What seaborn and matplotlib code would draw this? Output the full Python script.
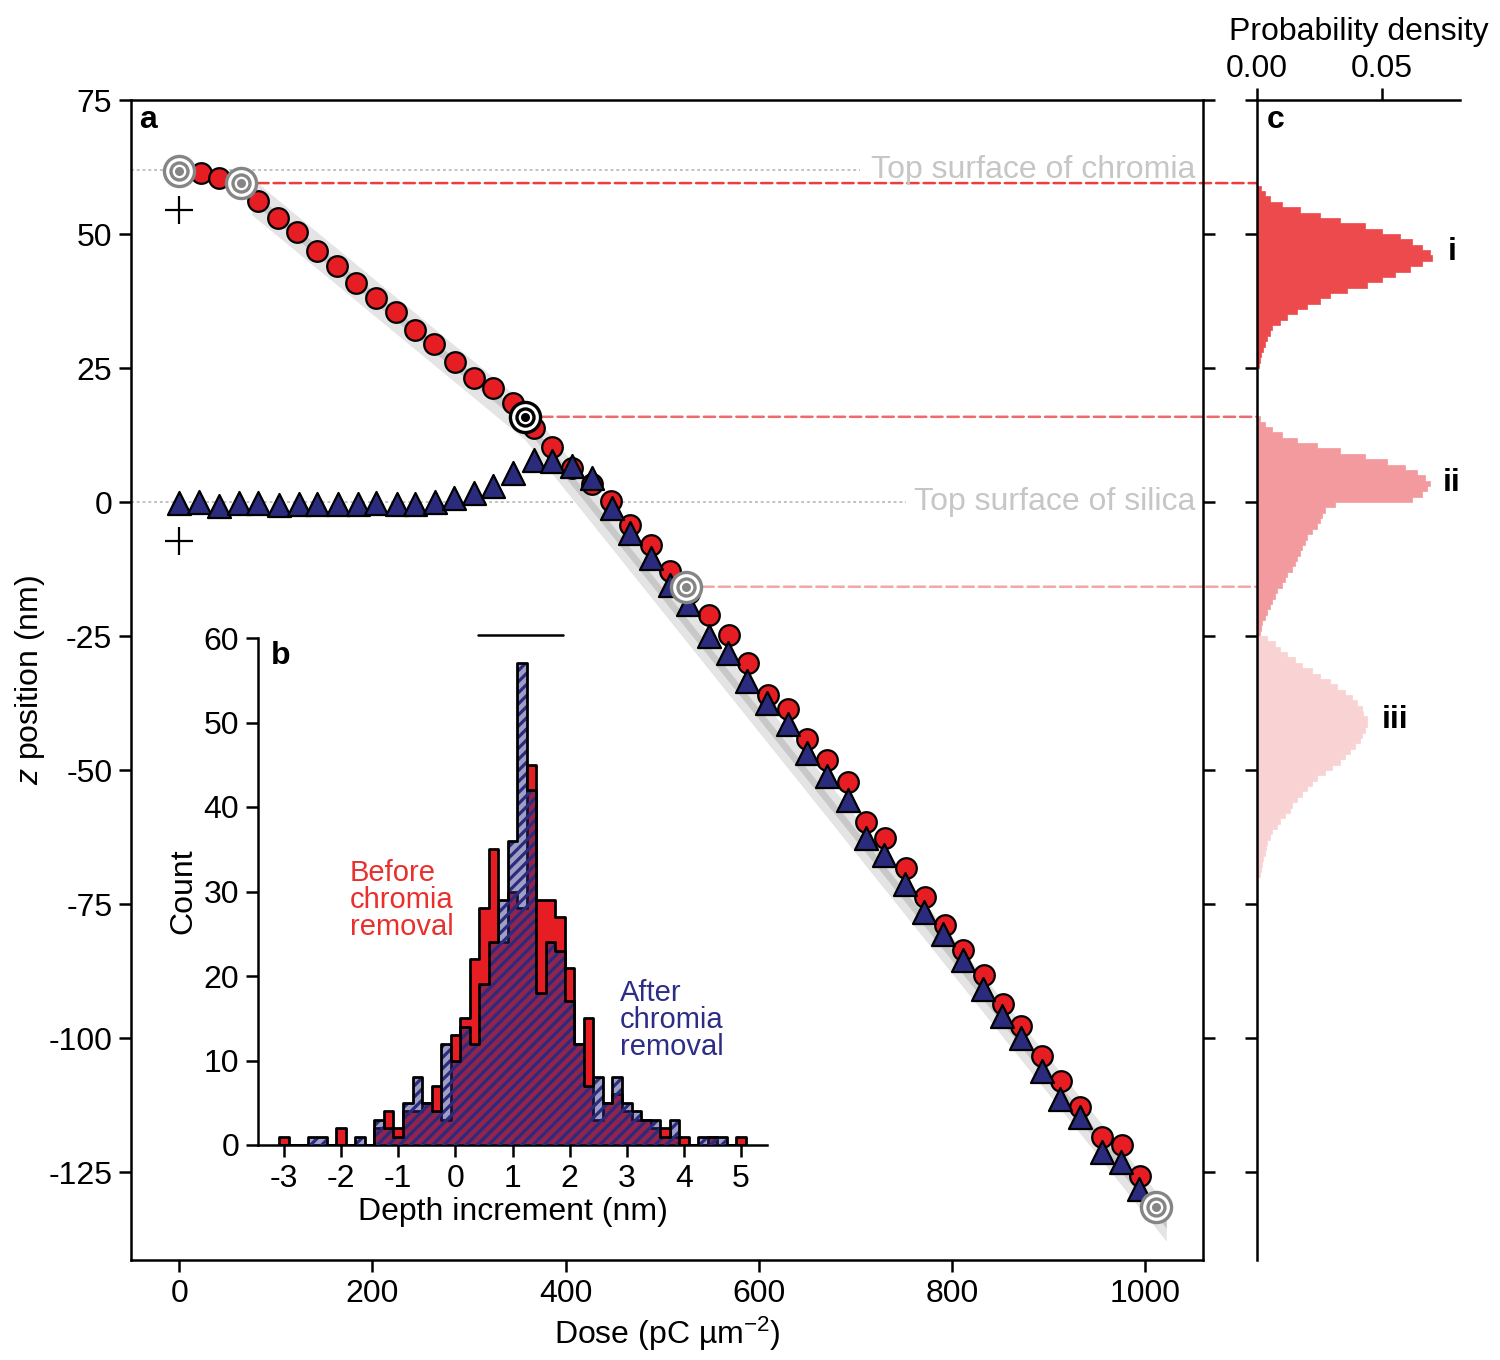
import numpy as np
import pandas as pd
import matplotlib
matplotlib.use("Agg")
import matplotlib.pyplot as plt
import seaborn as sns
from matplotlib.patches import ConnectionPatch

# ---------------- data: panel a ----------------
red_dose = [22, 41, 82, 102, 122, 143, 163, 183, 204, 224, 244, 264, 285, 305, 325, 346,
            367, 386, 407, 427, 447, 467, 488, 508, 528, 549, 569, 589, 610, 630, 650, 671,
            692, 711, 731, 752, 772, 793, 812, 833, 853, 872, 893, 913, 933, 955, 976, 995]
red_z = [61.4, 60.5, 56.2, 53.0, 50.4, 46.8, 44.0, 40.9, 38.0, 35.4, 32.1, 29.5, 26.1, 23.1, 21.3, 18.4,
         13.8, 10.3, 6.3, 3.4, 0.2, -4.3, -8.0, -12.8, -17.0, -21.1, -24.8, -30.1, -36.0, -38.6, -44.2, -48.1,
         -52.2, -59.7, -62.7, -68.3, -73.7, -78.9, -83.6, -88.2, -93.7, -97.8, -103.4, -108.0, -112.9, -118.5, -120.0, -125.7]

blue_dose = [0, 20, 41, 62, 82, 103, 124, 143, 164, 185, 204, 225, 244, 265, 284,
             305, 325, 346, 367, 386, 407, 427, 448, 467,
             488, 508, 527, 548, 568, 588, 609, 630, 650, 671, 692,
             711, 730, 751, 771, 791, 811, 832, 852, 872, 893, 912, 933, 955, 975, 994]
blue_z = [-0.2, 0.0, -0.7, -0.2, -0.2, -0.6, -0.3, -0.3, -0.3, -0.3, -0.2, -0.4, -0.3, 0.0, 0.8,
          1.7, 3.0, 5.4, 7.8, 7.6, 6.8, 4.5, -1.1, -5.8,
          -10.4, -15.5, -19.0, -25.0, -28.2, -33.4, -37.5, -41.5, -46.8, -51.1, -55.6,
          -62.7, -65.9, -71.3, -76.5, -80.6, -85.4, -90.9, -95.9, -100.0, -106.2, -111.4, -114.7, -121.3, -123.1, -128.2]

target_dose = [0, 64, 358, 525, 1011]
target_z = [61.8, 59.5, 15.9, -15.8, -131.5]
target_dark = [False, False, True, False, False]
dashed_targets = [1, 2, 3]          # targets linked to panel c
dashed_colors = ["#e8403f", "#ee6a6c", "#f4a5a7"]

plus_dose = [0, 0]
plus_z = [54.5, -7.3]

band_dose = [75, 358, 1022]
band_mid = [57.0, 15.0, -134.5]
band_half_light = 3.4
band_half_dark = 1.0

chromia_z = 61.9
silica_z = 0.0

# ---------------- data: panel c (probability density, 1 nm bins, listed top -> bottom) ----------------
c_i_top = 59.0
c_i = [0.0015, 0.003, 0.005, 0.010, 0.017, 0.025, 0.033, 0.043, 0.050, 0.057, 0.062, 0.066,
       0.069, 0.070, 0.066, 0.061, 0.055, 0.050, 0.044, 0.036, 0.029, 0.025, 0.020, 0.016,
       0.012, 0.009, 0.006, 0.005, 0.004, 0.003, 0.0022, 0.0016, 0.0011, 0.0006]
c_ii_top = 16.0
c_ii = [0.001, 0.003, 0.006, 0.010, 0.016, 0.024, 0.033, 0.043, 0.052, 0.059, 0.064, 0.067,
        0.069, 0.068, 0.066, 0.062, 0.031, 0.027, 0.026, 0.025, 0.024, 0.022, 0.020, 0.019,
        0.018, 0.017, 0.016, 0.015, 0.014, 0.012, 0.011, 0.010, 0.008, 0.007, 0.006, 0.005,
        0.004, 0.003, 0.002, 0.0015, 0.001]
c_iii_top = -25.0
c_iii = [0.004, 0.007, 0.009, 0.012, 0.015, 0.018, 0.022, 0.025, 0.029, 0.032, 0.035, 0.038,
         0.040, 0.042, 0.0425, 0.044, 0.044, 0.043, 0.042, 0.041, 0.039, 0.037, 0.035, 0.033,
         0.030, 0.027, 0.024, 0.022, 0.020, 0.018, 0.016, 0.014, 0.013, 0.011, 0.009, 0.008,
         0.006, 0.005, 0.004, 0.0035, 0.003, 0.0025, 0.002, 0.0015, 0.001]
c_labels = ["i", "ii", "iii"]
c_label_x = [0.078, 0.078, 0.0552]
c_label_z = [46.6, 3.5, -40.7]

# ---------------- data: panel b (inset histogram, bins centred on k/6 nm, k = -18..30) ----------------
b_first_center = -3.0
b_bin_width = 1 / 6
count_before = [1, 0, 0, 0, 0, 0, 2, 0, 0, 0, 2, 4, 2, 4, 4, 5, 7, 3, 13, 15, 22, 28, 35, 24, 30,
                28, 45, 29, 29, 27, 21, 12, 15, 3, 5, 6, 4, 3, 3, 2, 2, 1, 1, 0, 0, 1, 0, 0, 1]
count_after = [0, 0, 0, 1, 1, 0, 0, 0, 1, 0, 3, 2, 1, 5, 8, 5, 4, 12, 10, 14, 12, 19, 24, 29, 36,
               57, 42, 18, 24, 23, 17, 12, 7, 8, 5, 8, 5, 4, 3, 3, 1, 3, 0, 0, 1, 1, 1, 0, 0]
scale_bar_x = [0.40, 1.88]
scale_bar_y = 60.3

# ---------------- style ----------------
RED = "#e61e24"
NAVY = "#2b2b7e"
HI = "#ec4a4d"
HII = "#f29a9d"
HIII = "#f9d2d4"
GREYTXT = "#c6c6c6"
FS = 23

sns.set_theme(style="ticks")
plt.rcParams["font.family"] = ["Liberation Sans", "DejaVu Sans"]
plt.rcParams["mathtext.fontset"] = "custom"
plt.rcParams["mathtext.rm"] = "Liberation Sans"
plt.rcParams["mathtext.it"] = "Liberation Sans:italic"
plt.rcParams["mathtext.bf"] = "Liberation Sans:bold"
plt.rcParams["hatch.linewidth"] = 2.3
plt.rcParams["axes.linewidth"] = 1.8
plt.rcParams["axes.unicode_minus"] = False
for key in ("text.color", "axes.labelcolor", "xtick.color", "ytick.color", "axes.edgecolor"):
    plt.rcParams[key] = "black"

W, H = 1500, 1360
fig = plt.figure(figsize=(15, 13.6), dpi=100)
ax = fig.add_axes([131 / W, 1 - 1260 / H, 1072 / W, 1160 / H])
axc = fig.add_axes([1257 / W, 1 - 1260 / H, 203 / W, 1160 / H])
axb = fig.add_axes([258 / W, 1 - 1145 / H, 509 / W, 507 / H])
for a in (ax, axc, axb):
    a.set_facecolor("none")

# ---------------- panel a ----------------
ax.set_xlim(-50, 1060)
ax.set_ylim(-141.4, 75)

bd = np.array(band_dose)
bm = np.array(band_mid)
ax.fill_between(bd, bm - band_half_light, bm + band_half_light, color="#e4e4e4", lw=0, zorder=1)
ax.fill_between(bd, bm - band_half_dark, bm + band_half_dark, color="#c8c8c8", lw=0, zorder=1.1)

ax.plot([-50, 705], [chromia_z, chromia_z], ls=(0, (1.6, 1.6)), color="#bdbdbd", lw=1.3, zorder=0.5)
ax.plot([-50, 752], [silica_z, silica_z], ls=(0, (1.6, 1.6)), color="#bdbdbd", lw=1.3, zorder=0.5)
ax.text(1052, chromia_z, "Top surface of chromia", color=GREYTXT, fontsize=FS, ha="right", va="center")
ax.text(1052, silica_z, "Top surface of silica", color=GREYTXT, fontsize=FS, ha="right", va="center")

sns.scatterplot(x=red_dose, y=red_z, ax=ax, marker="o", s=220, color=RED,
                edgecolor="black", linewidth=1.6, zorder=3)
sns.scatterplot(x=blue_dose, y=blue_z, ax=ax, marker="^", s=275, color=NAVY,
                edgecolor="black", linewidth=1.6, zorder=4)

tdf = pd.DataFrame({"dose": target_dose, "z": target_z, "dark": target_dark})
for dark, sub in tdf.groupby("dark"):
    col = "black" if dark else "#858585"
    sns.scatterplot(data=sub, x="dose", y="z", ax=ax, marker="o", s=470, facecolor="white",
                    edgecolor=col, linewidth=2.4, zorder=6)
    sns.scatterplot(data=sub, x="dose", y="z", ax=ax, marker="o", s=150, facecolor="white",
                    edgecolor=col, linewidth=2.4, zorder=6.1)
    sns.scatterplot(data=sub, x="dose", y="z", ax=ax, marker="o", s=42, color=col,
                    linewidth=0, zorder=6.2)

ax.scatter(plus_dose, plus_z, marker="+", s=420, color="black", linewidths=1.6, zorder=5)

for idx, col in zip(dashed_targets, dashed_colors):
    con = ConnectionPatch(xyA=(target_dose[idx], target_z[idx]), coordsA=ax.transData,
                          xyB=(0, target_z[idx]), coordsB=axc.transData,
                          color=col, lw=1.8, ls=(0, (4.5, 2.0)), zorder=2.5)
    con.set_clip_on(False)
    ax.add_artist(con)

ax.set_xticks([0, 200, 400, 600, 800, 1000])
ax.set_yticks([75, 50, 25, 0, -25, -50, -75, -100, -125])
ax.tick_params(axis="both", direction="out", length=8.5, width=1.8, labelsize=FS, pad=5,
               color="black", labelcolor="black")
ax.tick_params(axis="y", right=True, labelright=False)
ax.tick_params(axis="x", top=False)
ax.set_xlabel("Dose (pC µm$^{-2}$)", fontsize=FS, labelpad=4)
ax.set_ylabel("$z$ position (nm)", fontsize=FS, labelpad=1)
for s in ax.spines.values():
    s.set_linewidth(1.8)
    s.set_color("black")
ax.text(0.008, 0.996, "a", transform=ax.transAxes, fontsize=FS, fontweight="bold", va="top", ha="left")

# ---------------- panel c ----------------
axc.set_ylim(ax.get_ylim())
axc.set_xlim(0, 0.0812)
for vals, top, colr in ((c_i, c_i_top, HI), (c_ii, c_ii_top, HII), (c_iii, c_iii_top, HIII)):
    n = len(vals)
    edges = top - np.arange(n + 1)[::-1]
    centers = (edges[:-1] + edges[1:]) / 2
    dfc = pd.DataFrame({"z": centers, "d": vals[::-1]})
    sns.histplot(data=dfc, y="z", weights="d", bins=[float(e) for e in edges], element="step",
                 fill=True, facecolor=colr, edgecolor=colr, linewidth=0.5, alpha=1, ax=axc, zorder=2)
for lab, lx, lz in zip(c_labels, c_label_x, c_label_z):
    axc.text(lx, lz, lab, fontsize=FS, fontweight="bold", ha="center", va="center")
axc.set_xlabel("Probability density", fontsize=FS, labelpad=10)
axc.set_ylabel("")
axc.xaxis.tick_top()
axc.xaxis.set_label_position("top")
axc.set_xticks([0, 0.05])
axc.set_xticklabels(["0.00", "0.05"])
axc.set_yticks([75, 50, 25, 0, -25, -50, -75, -100, -125])
axc.set_yticklabels([])
axc.tick_params(axis="both", direction="out", length=8.5, width=1.8, labelsize=FS, pad=3)
axc.spines["right"].set_visible(False)
axc.spines["bottom"].set_visible(False)
for s in ("left", "top"):
    axc.spines[s].set_linewidth(1.8)
    axc.spines[s].set_color("black")
axc.text(0.05, 0.996, "c", transform=axc.transAxes, fontsize=FS, fontweight="bold", va="top", ha="left")

# ---------------- panel b (inset) ----------------
nb = len(count_before)
b_centers = b_first_center + b_bin_width * np.arange(nb)
b_edges = [float(e) for e in (b_centers[0] - b_bin_width / 2 + b_bin_width * np.arange(nb + 1))]
dfb = pd.DataFrame({"depth": b_centers, "before": count_before, "after": count_after})
sns.histplot(data=dfb, x="depth", weights="before", bins=b_edges, element="step", fill=True,
             facecolor=RED, edgecolor="black", linewidth=2.0, alpha=1, ax=axb, zorder=2)
sns.histplot(data=dfb, x="depth", weights="after", bins=b_edges, element="step", fill=True,
             facecolor=(0.17, 0.17, 0.50, 0.45), edgecolor=NAVY, linewidth=0, hatch="///",
             ax=axb, zorder=3)
sns.histplot(data=dfb, x="depth", weights="after", bins=b_edges, element="step", fill=False,
             color="black", linewidth=2.0, ax=axb, zorder=4)
axb.plot(scale_bar_x, [scale_bar_y, scale_bar_y], color="black", lw=1.8, clip_on=False, zorder=5)
axb.set_xlim(-3.455, 5.455)
axb.set_ylim(0, 60)
axb.set_xticks(range(-3, 6))
axb.set_yticks(range(0, 61, 10))
axb.tick_params(axis="both", direction="out", length=8.5, width=1.8, labelsize=FS, pad=5)
axb.spines["top"].set_visible(False)
axb.spines["right"].set_visible(False)
for s in ("left", "bottom"):
    axb.spines[s].set_linewidth(1.8)
    axb.spines[s].set_color("black")
axb.set_xlabel("Depth increment (nm)", fontsize=FS, labelpad=2)
axb.set_ylabel("Count", fontsize=FS, labelpad=4)
axb.text(0.025, 0.995, "b", transform=axb.transAxes, fontsize=FS, fontweight="bold", va="top", ha="left")
axb.text(-1.845, 29.0, "Before\nchromia\nremoval", color="#e8302c", fontsize=21, ha="left", va="center",
         linespacing=0.95)
axb.text(2.88, 14.8, "After\nchromia\nremoval", color="#2e2d86", fontsize=21, ha="left", va="center",
         linespacing=0.95)

fig.savefig("out.png", dpi=100)
